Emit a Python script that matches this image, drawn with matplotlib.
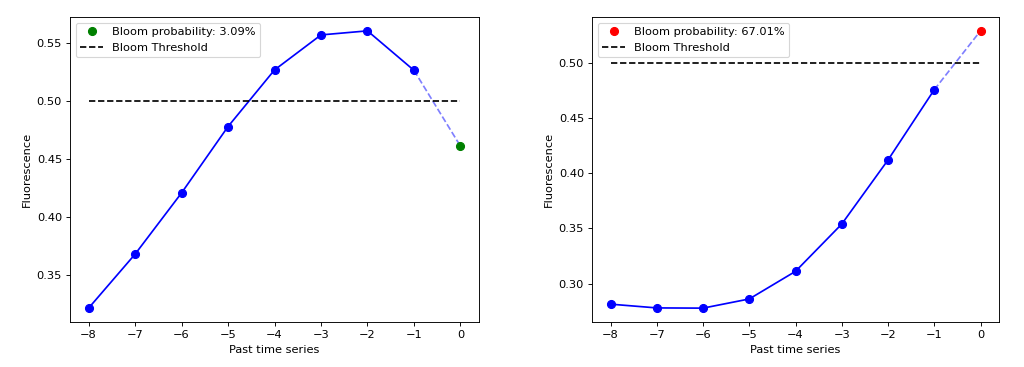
import numpy as np
import matplotlib
matplotlib.use("Agg")
import matplotlib.pyplot as plt

steps = [-8, -7, -6, -5, -4, -3, -2, -1, 0]

fluo_left = [0.3215, 0.368, 0.4208, 0.478, 0.5268, 0.557, 0.5605, 0.5265, 0.4612]
prob_left = 3.09
color_left = "green"

fluo_right = [0.2815, 0.2781, 0.2779, 0.2862, 0.3112, 0.3540, 0.4120, 0.4756, 0.5289]
prob_right = 67.01
color_right = "red"

threshold = 0.5


def plot_series(ax, y, prob, color):
    ax.plot(steps[:-1], y[:-1], "o-", color="blue", markersize=7)
    ax.plot(steps[-2:], y[-2:], "--", color="blue", alpha=0.5)
    ax.plot(steps[-1], y[-1], "o", color=color, markersize=7,
            label="Bloom probability: %.2f%%" % prob)
    ax.plot([steps[0], steps[-1]], [threshold, threshold], "k--",
            label="Bloom Threshold")
    ax.set_xlabel("Past time series")
    ax.set_ylabel("Fluorescence")
    ax.legend(loc="upper left")


# drawn at a larger size and scaled down to 1024 px wide
W, H = 1024.0, 367.0
fig = plt.figure(figsize=(12.5, 4.48), dpi=W / 12.5)
ax1 = fig.add_axes([70 / W, 1 - 322 / H, 409 / W, 305 / H])
ax2 = fig.add_axes([592 / W, 1 - 322 / H, 407 / W, 305 / H])

plot_series(ax1, fluo_left, prob_left, color_left)
plot_series(ax2, fluo_right, prob_right, color_right)

fig.savefig("out.png", dpi=W / 12.5)
